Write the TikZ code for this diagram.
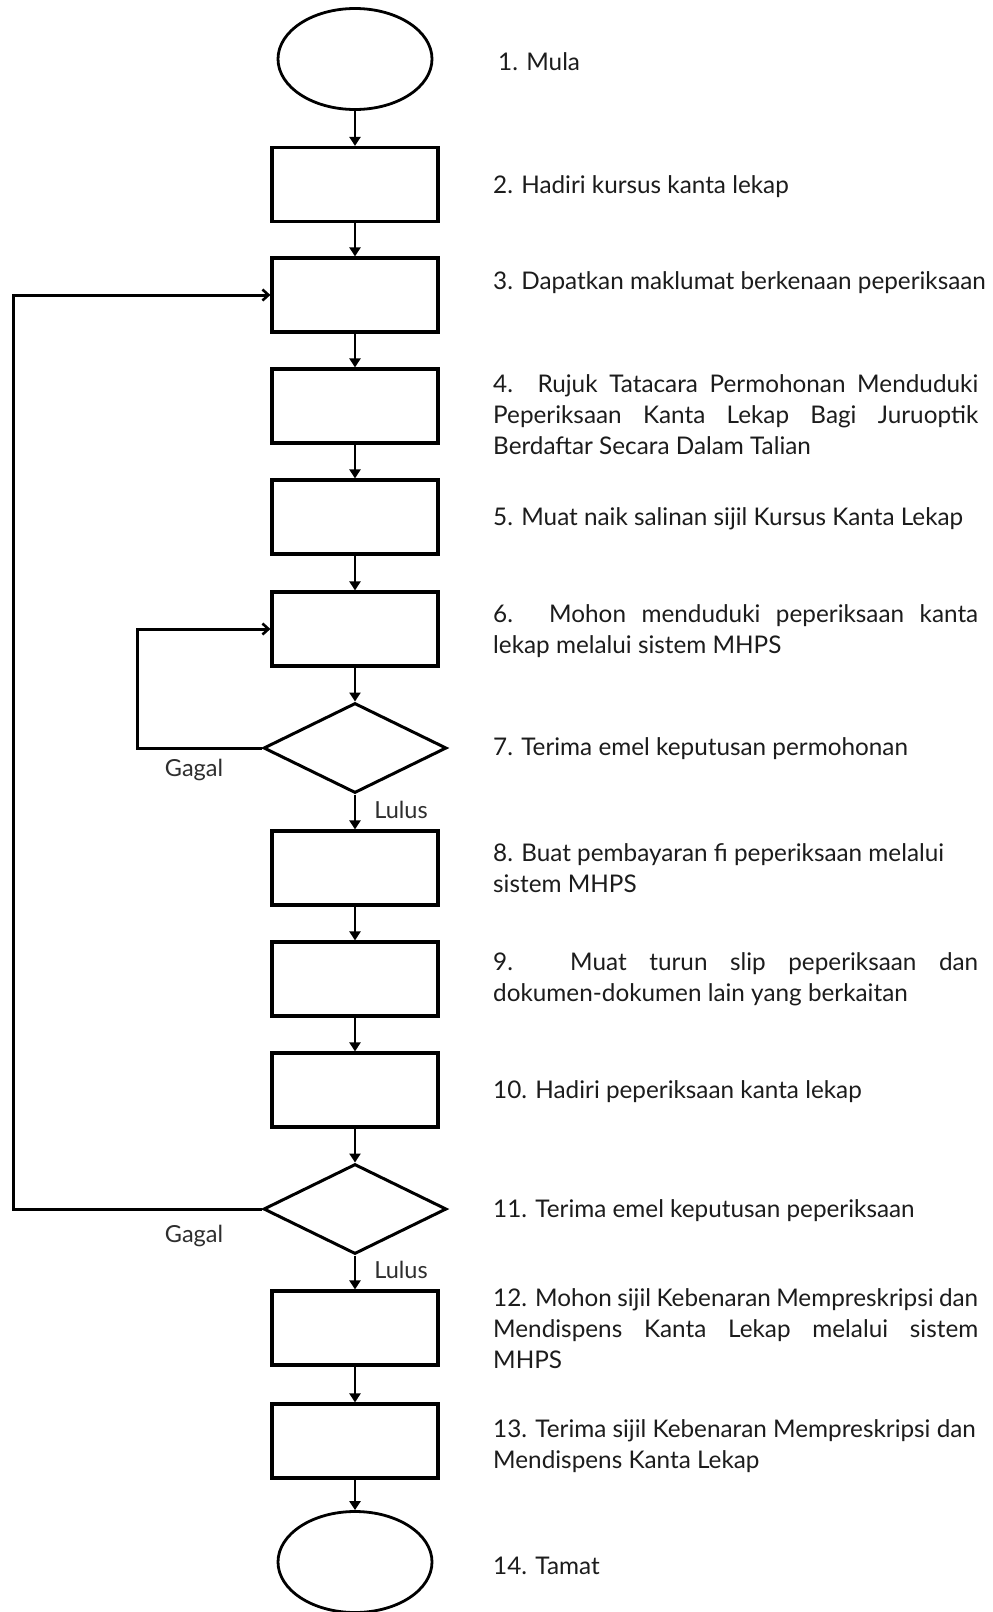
\documentclass[tikz,border=0pt]{standalone}
\usepackage{fontspec}
\setmainfont{Lato}
\usetikzlibrary{shapes.geometric,arrows.meta}
\definecolor{ink}{HTML}{1C1C1C}
\newcommand{\jl}[1]{\makebox[485pt][s]{#1}}
\begin{document}
\begin{tikzpicture}[x=1pt,y=-1pt,
  proc/.style={draw, line width=3.2pt, minimum width=166pt, minimum height=74pt, inner sep=0pt},
  term/.style={draw, ellipse, line width=2.8pt, minimum width=154pt, minimum height=101pt, inner sep=0pt},
  dec/.style={draw, diamond, line width=3pt, minimum width=183pt, minimum height=90pt, inner sep=0pt},
  conn/.style={line width=2.7pt, -{Triangle[length=9pt,width=11pt]}},
  loopline/.style={line width=3pt, -{Straight Barb[length=6pt,width=11pt,line width=2.6pt]}},
  desc/.style={anchor=west, inner sep=0pt, font=\fontsize{24.3}{31}\selectfont, text=ink, align=left},
  lbl/.style={inner sep=0pt, font=\fontsize{23.5}{27}\selectfont, text=black!82}]
\useasboundingbox (0,0) rectangle (993,1612);
\fill[white] (0,0) rectangle (993,1612);

\node[term] (n1) at (355,59) {};
\node[proc] (n2) at (355,184.5) {};
\node[proc] (n3) at (355,295) {};
\node[proc] (n4) at (355,406) {};
\node[proc] (n5) at (355,517) {};
\node[proc] (n6) at (355,629) {};
\node[dec]  (d7) at (355,748) {};
\node[proc] (n8) at (355,868) {};
\node[proc] (n9) at (355,979) {};
\node[proc] (n10) at (355,1090) {};
\node[dec]  (d11) at (355,1209) {};
\node[proc] (n12) at (355,1328) {};
\node[proc] (n13) at (355,1441) {};
\node[term] (n14) at (355,1562) {};

\draw[conn] (n1) -- (n2);
\draw[conn] (n2) -- (n3);
\draw[conn] (n3) -- (n4);
\draw[conn] (n4) -- (n5);
\draw[conn] (n5) -- (n6);
\draw[conn] (n6) -- (d7);
\draw[conn] (d7) -- (n8);
\draw[conn] (n8) -- (n9);
\draw[conn] (n9) -- (n10);
\draw[conn] (n10) -- (d11);
\draw[conn] (d11) -- (n12);
\draw[conn] (n12) -- (n13);
\draw[conn] (n13) -- (n14);

\coordinate (innerx) at (137,0);
\coordinate (outerx) at (13,0);
\draw[loopline] (d7.west) -- (d7.west -| innerx) |- (n6.west);
\draw[loopline] (d11.west) -- (d11.west -| outerx) |- (n3.west);

\node[lbl] (g1) at (194,770) {Gagal};
\node[lbl] (g2) at (194,1236) {Gagal};
\node[lbl] (l1) at (401,810) {Lulus};
\node[lbl] (l2) at (401,1270) {Lulus};

\node[desc] (t1) at (498,62) {1. Mula};
\node[desc] (t2) at (493,187) {2. Hadiri kursus kanta lekap};
\node[desc] (t3) at (493,283) {3. Dapatkan maklumat berkenaan peperiksaan};
\node[desc] (t4) at (493,415) {\jl{4. Rujuk Tatacara Permohonan Menduduki}\\\jl{Peperiksaan Kanta Lekap Bagi Juruoptik}\\Berdaftar Secara Dalam Talian};
\node[desc] (t5) at (493,519) {5. Muat naik salinan sijil Kursus Kanta Lekap};
\node[desc] (t6) at (493,631) {\jl{6. Mohon menduduki peperiksaan kanta}\\lekap melalui sistem MHPS};
\node[desc] (t7) at (493,749) {7. Terima emel keputusan permohonan};
\node[desc] (t8) at (493,868) {8. Buat pembayaran fi peperiksaan melalui\\sistem MHPS};
\node[desc] (t9) at (493,979) {\jl{9. Muat turun slip peperiksaan dan}\\dokumen-dokumen lain yang berkaitan};
\node[desc] (t10) at (493,1092) {10. Hadiri peperiksaan kanta lekap};
\node[desc] (t11) at (493,1211) {11. Terima emel keputusan peperiksaan};
\node[desc] (t12) at (493,1329) {\jl{12. Mohon sijil Kebenaran Mempreskripsi dan}\\\jl{Mendispens Kanta Lekap melalui sistem}\\MHPS};
\node[desc] (t13) at (493,1446) {13. Terima sijil Kebenaran Mempreskripsi dan\\Mendispens Kanta Lekap};
\node[desc] (t14) at (493,1566) {14. Tamat};
\end{tikzpicture}
\end{document}
